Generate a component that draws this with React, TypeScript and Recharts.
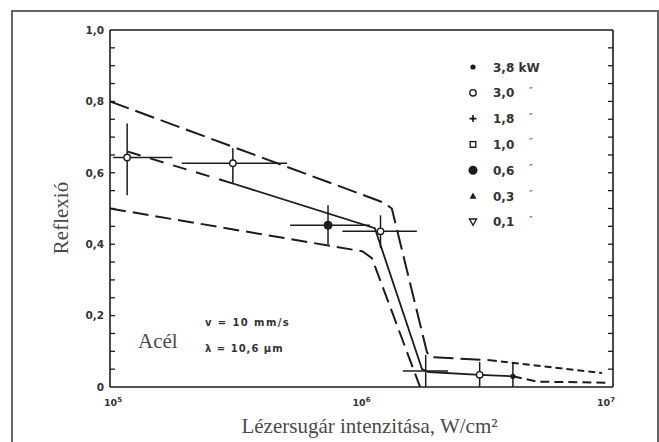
import React from "react";
import {
    ComposedChart,
    Line,
    Scatter,
    ErrorBar,
    XAxis,
    YAxis,
    Customized,
} from "recharts";

// ---------------------------------------------------------------------------
// Data — intensity in W/cm², reflectance 0..1
// ---------------------------------------------------------------------------

// upper envelope (long dashes), then its short-dash tail
const UPPER_I = [1e5, 1.22e6, 1.32e6, 1.82e6, 1.87e6, 3.24e6];
const UPPER_R = [0.8, 0.517, 0.5, 0.098, 0.084, 0.075];
const UPPER_TAIL_I = [3.24e6, 9.04e6];
const UPPER_TAIL_R = [0.075, 0.039];

// lower envelope
const LOWER_I = [1e5, 1.01e6, 1.1e6, 1.71e6];
const LOWER_R = [0.5, 0.38, 0.361, 0];

// mean curve: dashed start, solid middle, dashed tail
const MEAN_HEAD_I = [1.17e5, 3.08e5];
const MEAN_HEAD_R = [0.66, 0.57];
const MEAN_I = [3.08e5, 1.13e6, 1.74e6, 1.85e6, 2.95e6, 4.0e6];
const MEAN_R = [0.57, 0.445, 0.05, 0.042, 0.034, 0.03];
const MEAN_TAIL_I = [4.0e6, 5.0e6, 9.5e6];
const MEAN_TAIL_R = [0.03, 0.015, 0.012];

// measured points with error ranges
const PT_I = [1.17e5, 3.08e5, 7.36e5, 1.19e6, 1.8e6, 2.95e6, 4.0e6];
const PT_R = [0.643, 0.627, 0.453, 0.436, 0.045, 0.034, 0.03];
const PT_R_LO = [0.537, 0.568, 0.4, 0.389, 0, 0, 0];
const PT_R_HI = [0.738, 0.669, 0.509, 0.481, 0.09, 0.07, 0.067];
const PT_I_LO = [1.03e5, 1.93e5, 5.2e5, 8.4e5, 1.46e6, 2.95e6, 4.0e6];
const PT_I_HI = [1.77e5, 5.06e5, 1.08e6, 1.66e6, 2.21e6, 2.95e6, 4.0e6];
const PT_SYM = ["open", "open", "bigDot", "open", "none", "open", "dot"];

// axes
const X_MAJOR = [1e5, 1e6, 1e7];
const X_EXP = ["5", "6", "7"];
const X_MINOR = [
    2e5, 3e5, 4e5, 5e5, 6e5, 7e5, 8e5, 9e5, 1e6,
    2e6, 3e6, 4e6, 5e6, 6e6, 7e6, 8e6, 9e6,
];
const Y_MAJOR = [0, 0.2, 0.4, 0.6, 0.8, 1.0];
const Y_MINOR = [
    0.05, 0.1, 0.15, 0.2, 0.25, 0.3, 0.35, 0.4, 0.45, 0.5,
    0.55, 0.6, 0.65, 0.7, 0.75, 0.8, 0.85, 0.9, 0.95,
];

// legend
const LEGEND_LABELS = ["3,8 kW", "3,0", "1,8", "1,0", "0,6", "0,3", "0,1"];
const LEGEND_SYMS = ["dot", "open", "plus", "square", "bigDot", "triUp", "triDown"];

// ---------------------------------------------------------------------------
// Styles
// ---------------------------------------------------------------------------
const INK = "#1c1c1c";
const GREY_TEXT = "#4a4a4a";
const SANS = "'DejaVu Sans', sans-serif";
const SERIF = "'Liberation Serif', serif";

const zipSeries = (xs: number[], ys: number[]) => xs.map((i, k) => ({ i, r: ys[k] }));

const upper = zipSeries(UPPER_I, UPPER_R);
const upperTail = zipSeries(UPPER_TAIL_I, UPPER_TAIL_R);
const lower = zipSeries(LOWER_I, LOWER_R);
const meanHead = zipSeries(MEAN_HEAD_I, MEAN_HEAD_R);
const mean = zipSeries(MEAN_I, MEAN_R);
const meanTail = zipSeries(MEAN_TAIL_I, MEAN_TAIL_R);

const points = PT_I.map((i, k) => ({
    i,
    r: PT_R[k],
    sym: PT_SYM[k],
    ey: [PT_R[k] - PT_R_LO[k], PT_R_HI[k] - PT_R[k]],
    ex: [i - PT_I_LO[k], PT_I_HI[k] - i],
}));

function Sym({ kind, cx, cy }: { kind: string; cx: number; cy: number }) {
    switch (kind) {
        case "dot":
            return <circle cx={cx} cy={cy} r={2.6} fill={INK} />;
        case "open":
            return <circle cx={cx} cy={cy} r={3.2} fill="#fff" stroke={INK} strokeWidth={1.4} />;
        case "bigDot":
            return <circle cx={cx} cy={cy} r={4.5} fill={INK} />;
        case "plus":
            return (
                <g>
                    <path
                        d={`M${cx - 3.5},${cy}H${cx + 3.5}M${cx},${cy - 3.5}V${cy + 3.5}`}
                        stroke={INK}
                        strokeWidth={1.6}
                    />
                    <circle cx={cx} cy={cy} r={1.5} fill={INK} />
                </g>
            );
        case "square":
            return (
                <rect x={cx - 2.8} y={cy - 2.8} width={5.6} height={5.6} fill="#fff" stroke={INK} strokeWidth={1.4} />
            );
        case "triUp":
            return <path d={`M${cx},${cy - 3.5}L${cx + 3.5},${cy + 2.8}L${cx - 3.5},${cy + 2.8}Z`} fill={INK} />;
        case "triDown":
            return (
                <path
                    d={`M${cx - 3.5},${cy - 2.8}L${cx + 3.5},${cy - 2.8}L${cx},${cy + 3.5}Z`}
                    fill="#fff"
                    stroke={INK}
                    strokeWidth={1.4}
                />
            );
        default:
            return <g />;
    }
}

function XTick(props: any) {
    const { x, y, payload, index } = props;
    const anchor = index === X_MAJOR.length - 1 ? "end" : "middle";
    const dx = index === 0 ? 3 : index === X_MAJOR.length - 1 ? 2 : 0;
    return (
        <text
            x={x + dx}
            y={y + 17}
            textAnchor={anchor}
            fontFamily={SANS}
            fontWeight="bold"
            fontSize={9.5}
            fill="#333"
        >
            <tspan>10</tspan>
            <tspan dy={-4} fontSize={7}>
                {X_EXP[X_MAJOR.indexOf(payload.value)]}
            </tspan>
        </text>
    );
}

// frame axes draw tick marks only, no labels
const NoLabel = () => <g />;

// legend + notes inside the plot
function Annotations() {
    const top = 67;
    const step = 25.8;
    return (
        <g>
            {LEGEND_LABELS.map((label, k) => (
                <g key={label}>
                    <Sym kind={LEGEND_SYMS[k]} cx={473} cy={top + k * step} />
                    <text
                        x={493}
                        y={top + k * step + 4.5}
                        fontFamily={SANS}
                        fontWeight="bold"
                        fontSize={12}
                        fill="#333"
                    >
                        {label}
                    </text>
                    {k > 0 && (
                        <text x={529} y={top + k * step + 2} fontFamily={SANS} fontSize={10} fill="#555">
                            ″
                        </text>
                    )}
                </g>
            ))}
            <text x={138} y={348} fontFamily={SERIF} fontSize={21} fill={GREY_TEXT}>
                Acél
            </text>
            <text x={205} y={326} fontFamily={SANS} fontWeight="bold" fontSize={10} letterSpacing={1.4} fill="#333">
                v = 10 mm/s
            </text>
            <text x={205} y={352} fontFamily={SANS} fontWeight="bold" fontSize={10} letterSpacing={1} fill="#333">
                λ = 10,6 µm
            </text>
            <text
                x={61}
                y={218}
                transform="rotate(-90, 61, 218)"
                textAnchor="middle"
                dominantBaseline="central"
                fontFamily={SERIF}
                fontSize={21}
                fill={GREY_TEXT}
            >
                Reflexió
            </text>
        </g>
    );
}

const axisStroke = { stroke: INK, strokeWidth: 1.6 };
const tickStroke = { stroke: INK, strokeWidth: 1.3 };

export default function App() {
    return (
        <div
            style={{
                position: "absolute",
                left: 0,
                top: 0,
                width: 659,
                height: 442,
                overflow: "hidden",
                background: "#fff",
            }}
        >
            <div
                style={{
                    position: "absolute",
                    left: 11,
                    top: 10,
                    width: 648,
                    height: 470,
                    border: "2px solid #666",
                    boxSizing: "border-box",
                }}
            />
            <div style={{ position: "absolute", left: 0, top: 0 }}>
                <ComposedChart width={659} height={442} margin={{ top: 30, right: 46, bottom: 5, left: 40 }}>
                    {/* label axes */}
                    <XAxis
                        xAxisId="x"
                        type="number"
                        dataKey="i"
                        scale="log"
                        domain={[1e5, 1e7]}
                        allowDataOverflow
                        ticks={X_MAJOR}
                        interval={0}
                        tick={<XTick />}
                        tickLine={false}
                        axisLine={false}
                        tickSize={0}
                        tickMargin={2}
                        height={50}
                        label={{
                            value: "Lézersugár intenzitása, W/cm²",
                            position: "insideBottom",
                            offset: 4,
                            dx: 8,
                            fill: GREY_TEXT,
                            fontFamily: SERIF,
                            fontSize: 21,
                        }}
                    />
                    <YAxis
                        yAxisId="y"
                        type="number"
                        dataKey="r"
                        domain={[0, 1]}
                        allowDataOverflow
                        ticks={Y_MAJOR}
                        interval={0}
                        tickFormatter={(v: number) => (v === 0 ? "0" : v.toFixed(1).replace(".", ","))}
                        tick={{ fill: "#333", fontFamily: SANS, fontWeight: "bold", fontSize: 10.5 }}
                        tickLine={false}
                        axisLine={false}
                        tickSize={0}
                        tickMargin={6}
                        width={70}
                    />

                    {/* frame with inward minor ticks on all four sides */}
                    <XAxis
                        xAxisId="xb"
                        orientation="bottom"
                        mirror
                        height={1}
                        type="number"
                        scale="log"
                        domain={[1e5, 1e7]}
                        allowDataOverflow
                        ticks={X_MINOR}
                        interval={0}
                        tick={NoLabel}
                        tickSize={5}
                        axisLine={axisStroke}
                        tickLine={tickStroke}
                    />
                    <XAxis
                        xAxisId="xt"
                        orientation="top"
                        mirror
                        height={1}
                        type="number"
                        scale="log"
                        domain={[1e5, 1e7]}
                        allowDataOverflow
                        ticks={X_MINOR}
                        interval={0}
                        tick={NoLabel}
                        tickSize={5}
                        axisLine={axisStroke}
                        tickLine={tickStroke}
                    />
                    <YAxis
                        yAxisId="yl"
                        orientation="left"
                        mirror
                        width={1}
                        type="number"
                        domain={[0, 1]}
                        allowDataOverflow
                        ticks={Y_MINOR}
                        interval={0}
                        tick={NoLabel}
                        tickSize={5}
                        axisLine={axisStroke}
                        tickLine={tickStroke}
                    />
                    <YAxis
                        yAxisId="yr"
                        orientation="right"
                        mirror
                        width={1}
                        type="number"
                        domain={[0, 1]}
                        allowDataOverflow
                        ticks={Y_MINOR}
                        interval={0}
                        tick={NoLabel}
                        tickSize={5}
                        axisLine={axisStroke}
                        tickLine={tickStroke}
                    />

                    {/* envelopes and mean curve */}
                    <Line xAxisId="x" yAxisId="y" data={upper} dataKey="r" stroke={INK} strokeWidth={2}
                        strokeDasharray="20 7" dot={false} isAnimationActive={false} />
                    <Line xAxisId="x" yAxisId="y" data={upperTail} dataKey="r" stroke={INK} strokeWidth={2}
                        strokeDasharray="7 4" dot={false} isAnimationActive={false} />
                    <Line xAxisId="x" yAxisId="y" data={lower} dataKey="r" stroke={INK} strokeWidth={2}
                        strokeDasharray="16 7" dot={false} isAnimationActive={false} />
                    <Line xAxisId="x" yAxisId="y" data={meanHead} dataKey="r" stroke={INK} strokeWidth={2}
                        strokeDasharray="14 10" dot={false} isAnimationActive={false} />
                    <Line xAxisId="x" yAxisId="y" data={mean} dataKey="r" stroke={INK} strokeWidth={1.8}
                        dot={false} isAnimationActive={false} />
                    <Line xAxisId="x" yAxisId="y" data={meanTail} dataKey="r" stroke={INK} strokeWidth={2}
                        strokeDasharray="9 5" dot={false} isAnimationActive={false} />

                    {/* measurements with error crosses */}
                    <Scatter
                        xAxisId="x"
                        yAxisId="y"
                        data={points}
                        isAnimationActive={false}
                        shape={(p: any) => <Sym kind={p.payload.sym} cx={p.cx} cy={p.cy} />}
                    >
                        <ErrorBar dataKey="ey" direction="y" width={0} stroke={INK} strokeWidth={1.5} />
                        <ErrorBar dataKey="ex" direction="x" width={0} stroke={INK} strokeWidth={1.5} />
                    </Scatter>

                    <Customized component={Annotations} />
                </ComposedChart>
            </div>
        </div>
    );
}
